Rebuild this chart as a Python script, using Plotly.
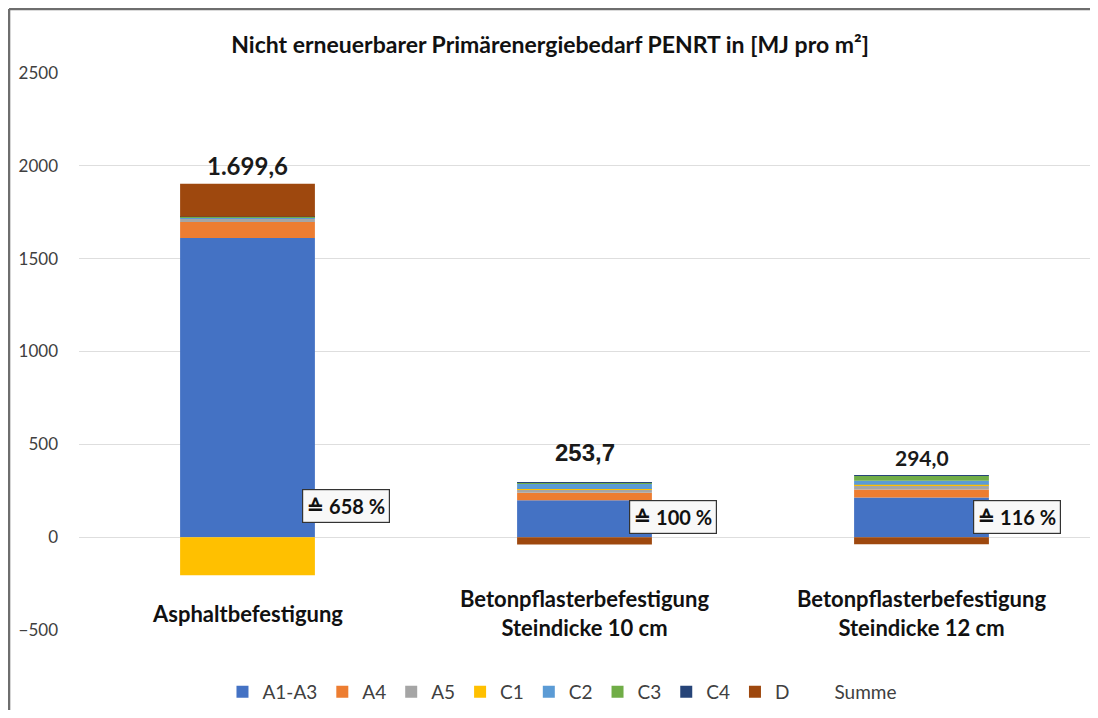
import plotly.graph_objects as go

# --- Daten ---
kategorien = ["Asphaltbefestigung",
              "Betonpflasterbefestigung<br>Steindicke 10 cm",
              "Betonpflasterbefestigung<br>Steindicke 12 cm"]

a1_a3 = [1611, 199, 214]
a4 = [86, 40, 43]
a5 = [18, 18, 22]
c1 = [-205, 3, 3]
c2 = [8, 28, 22]
c3 = [2, 5, 26]
c4 = [1, 1, 2]
d = [178, -40, -38]

summe_text = ["1.699,6", "253,7", "294,0"]
prozent_text = ["≙ 658 %", "≙ 100 %", "≙ 116 %"]

y_ticks = [-500, 0, 500, 1000, 1500, 2000, 2500]

FONT = "Lato"
phasen = [
    ("A1-A3", a1_a3, "#4472c4"),
    ("A4", a4, "#ed7d31"),
    ("A5", a5, "#a5a5a5"),
    ("C1", c1, "#ffc000"),
    ("C2", c2, "#5b9bd5"),
    ("C3", c3, "#70ad47"),
    ("C4", c4, "#264478"),
    ("D", d, "#9e480e"),
]

x_idx = list(range(len(kategorien)))

fig = go.Figure()
for name, werte, farbe in phasen:
    fig.add_trace(go.Bar(x=x_idx, y=werte, name=name, marker_color=farbe,
                         marker_line_width=0, width=0.4))

# Oberkante der positiven Stapel
oben = [sum(v[i] for _, v, _ in phasen if v[i] > 0) for i in x_idx]

# Summe (nur Legende, keine sichtbare Linie)
fig.add_trace(go.Scatter(x=x_idx, y=oben, name="Summe", mode="lines",
                         line=dict(color="rgba(0,0,0,0)"), hoverinfo="skip"))

# Summenwerte über den Balken
summe_shift = [18, 30, 18]
summe_size = [24, 24, 21]
summe_font = [FONT, "Liberation Sans", FONT]
for i in x_idx:
    fig.add_annotation(x=i, y=oben[i], text="<b>%s</b>" % summe_text[i],
                       showarrow=False, yanchor="middle", yshift=summe_shift[i],
                       font=dict(size=summe_size[i], color="#1a1a1a", family=summe_font[i]))

# Prozentkästchen
prozent_x = [0.293, 1.264, 2.284]
prozent_y = [167, 108, 108]
for i in x_idx:
    fig.add_annotation(x=prozent_x[i], y=prozent_y[i], text="<b>%s</b>" % prozent_text[i],
                       showarrow=False, font=dict(size=20, color="#111111", family=FONT),
                       bgcolor="#f8f8f8", bordercolor="#333333", borderwidth=1.2, borderpad=4)

# Kategoriebeschriftungen
for i in x_idx:
    fig.add_annotation(x=i, y=0.03, xref="x", yref="paper", text="<b>%s</b>" % kategorien[i],
                       showarrow=False, yanchor="middle",
                       font=dict(size=22, color="#111111", family=FONT))

# Rahmen (nur links und oben sichtbar)
rahmen = dict(color="#6e6e6e", width=2.5)
fig.add_shape(type="line", xref="paper", yref="paper", x0=-0.0692, x1=-0.0692, y0=-0.5, y1=1.115,
              line=rahmen, layer="above")
fig.add_shape(type="line", xref="paper", yref="paper", x0=-0.0692, x1=1.5, y0=1.115, y1=1.115,
              line=rahmen, layer="above")

fig.update_layout(
    width=1082, height=702,
    barmode="relative",
    plot_bgcolor="white", paper_bgcolor="white",
    margin=dict(l=71, r=0, t=65, b=80, autoexpand=False),
    font=dict(family=FONT, size=17, color="#404040"),
    title=dict(text="<b>Nicht erneuerbarer Primärenergiebedarf PENRT in [MJ pro m²]</b>",
               x=0.501, xref="container", y=0.947, yanchor="middle",
               font=dict(size=23, color="#111111", family=FONT)),
    showlegend=True,
    legend=dict(orientation="h", x=0.512, xanchor="center", xref="container",
                y=-0.111, yanchor="middle", yref="paper",
                font=dict(size=19, color="#404040", family=FONT),
                traceorder="normal"),
    xaxis=dict(range=[-0.5, 2.5], showticklabels=False, showgrid=False,
               zeroline=False, showline=False),
    yaxis=dict(range=[-500, 2500], tickvals=y_ticks, showgrid=True, gridcolor="#dedede",
               gridwidth=1, zeroline=True, zerolinecolor="#dedede", zerolinewidth=1,
               ticks="", ticklabelstandoff=20, automargin=False,
               tickfont=dict(size=17, color="#404040")),
)

fig.write_html("out.html")
